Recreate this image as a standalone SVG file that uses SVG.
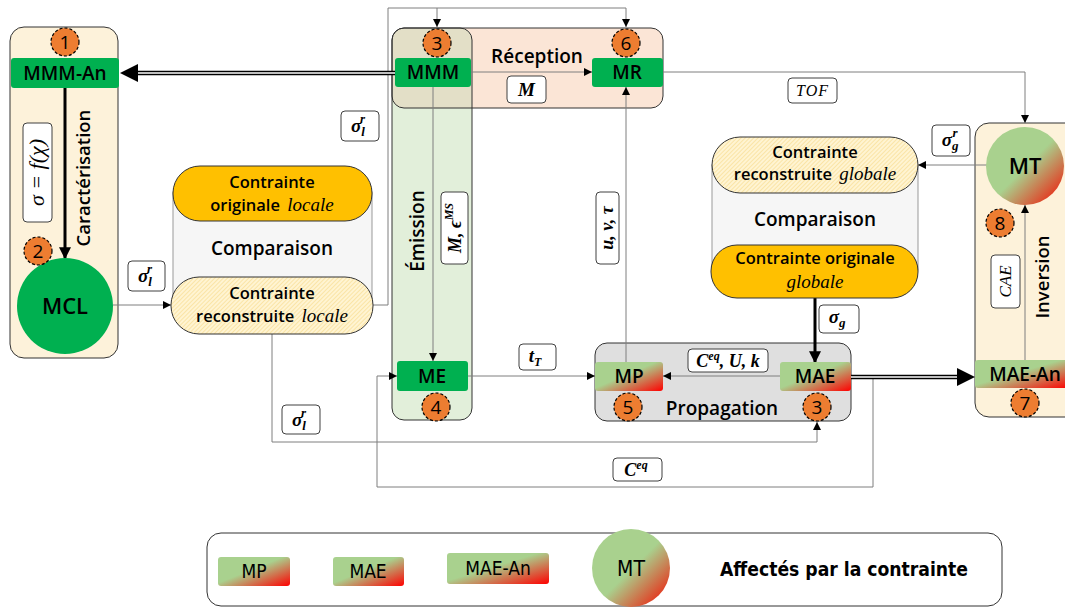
<svg xmlns="http://www.w3.org/2000/svg" width="1065" height="609" viewBox="0 0 1065 609">
<defs>
<style>
.t{font-family:"Open Sans","Liberation Sans",sans-serif;font-weight:600;fill:#000;text-anchor:middle}
.n{font-family:"Open Sans","Liberation Sans",sans-serif;font-size:19px;fill:#000;text-anchor:middle}
.m{font-family:"Liberation Serif","DejaVu Serif",serif;font-style:italic;font-weight:bold;fill:#000;text-anchor:middle}
.mi{font-family:"Liberation Serif","DejaVu Serif",serif;font-style:italic;fill:#000;text-anchor:middle}
.lbl{fill:#fff;stroke:#404040;stroke-width:1}
.conn{fill:none;stroke:#7f7f7f;stroke-width:1}
.thick{fill:none;stroke:#000;stroke-width:3}
.green{fill:#00b050}
.badge{fill:#ed7d31;stroke:#000;stroke-width:1.2;stroke-dasharray:3,2}
.col{fill:#fdf2da;stroke:#333;stroke-width:1}
.lg{font-family:"DejaVu Sans Condensed","DejaVu Sans","Liberation Sans",sans-serif;fill:#000;text-anchor:middle}
</style>
<linearGradient id="grad" x1="0" y1="0" x2="1" y2="1">
<stop offset="0" stop-color="#a9d18e"/>
<stop offset="0.45" stop-color="#a9d18e"/>
<stop offset="1" stop-color="#ff0000"/>
</linearGradient>
<linearGradient id="gradc" x1="0.15" y1="0.15" x2="0.95" y2="0.95">
<stop offset="0" stop-color="#a9d18e"/>
<stop offset="0.45" stop-color="#a9d18e"/>
<stop offset="1" stop-color="#f01a0a"/>
</linearGradient>
<pattern id="hatch" width="3" height="3" patternUnits="userSpaceOnUse" patternTransform="rotate(45)">
<rect width="3" height="3" fill="#fff4d2"/>
<line x1="0" y1="0" x2="0" y2="3" stroke="#f6d47a" stroke-width="1"/>
</pattern>
<clipPath id="recClip"><rect x="392" y="28" width="271" height="80" rx="12"/></clipPath>
<marker id="a" viewBox="0 0 10 10" refX="10" refY="5" markerWidth="8" markerHeight="8" markerUnits="userSpaceOnUse" orient="auto"><path d="M0,0 L10,5 L0,10 z" fill="#000"/></marker>
<marker id="ab" viewBox="0 0 10 10" refX="9" refY="5" markerWidth="12" markerHeight="12" markerUnits="userSpaceOnUse" orient="auto"><path d="M0,0 L10,5 L0,10 z" fill="#000"/></marker>
</defs>
<rect width="1065" height="609" fill="#fff"/>

<!-- Containers -->
<g id="caracterisation">
<rect class="col" x="10" y="27" width="108" height="331" rx="14"/>
<text class="t" font-size="18.5" transform="translate(90,178) rotate(-90)">Caractérisation</text>
</g>

<g id="reception-emission">
<rect x="392" y="28" width="271" height="80" rx="12" fill="#fbe5d6"/>
<rect x="392" y="28" width="80" height="392" rx="12" fill="#e2efda"/>
<rect x="392" y="28" width="80" height="392" rx="12" fill="#e3dfc7" clip-path="url(#recClip)"/>
<rect x="392" y="28" width="271" height="80" rx="12" fill="none" stroke="#333"/>
<rect x="392" y="28" width="80" height="392" rx="12" fill="none" stroke="#333"/>
<text class="t" font-size="19" x="537" y="63">Réception</text>
<text class="t" font-size="19" transform="translate(424,231) rotate(-90)">Émission</text>
</g>

<g id="propagation">
<rect x="595" y="343" width="256" height="78" rx="12" fill="#dfdfdf" stroke="#333"/>
<text class="t" font-size="19" x="722" y="415">Propagation</text>
</g>

<g id="inversion">
<rect class="col" x="975" y="123" width="110" height="294" rx="14"/>
<text class="t" font-size="18.5" transform="translate(1049,277) rotate(-90)">Inversion</text>
</g>

<!-- Connectors -->
<g id="connectors">
<path class="thick" d="M65,88 V258" marker-end="url(#ab)"/>
<path class="conn" d="M113,305 H171" marker-end="url(#a)"/>
<path class="conn" d="M373,305 H388 V8 H626 V27" marker-end="url(#a)"/>
<path class="conn" d="M437,8 V27" marker-end="url(#a)"/>
<path class="conn" d="M471,72 H592" marker-end="url(#a)"/>
<path class="conn" d="M433,87 V361" marker-end="url(#a)"/>
<path class="conn" d="M468,376 H595" marker-end="url(#a)"/>
<path class="conn" d="M780,376 H663" marker-end="url(#a)"/>
<path class="conn" d="M626,362 V87" marker-end="url(#a)"/>
<path class="conn" d="M272,334 V442 H817 V422" marker-end="url(#a)"/>
<path class="conn" d="M851,377 H873 V487 H377 V376 H397" marker-end="url(#a)"/>
<path class="conn" d="M663,72 H1025 V123" marker-end="url(#a)"/>
<path class="conn" d="M987,165 H918" marker-end="url(#a)"/>
<path class="conn" d="M1025,360 V205" marker-end="url(#a)"/>
<path class="thick" d="M815,298 V362" marker-end="url(#ab)"/>
<path d="M395,73 H135" stroke="#000" stroke-width="4.5" fill="none"/>
<path d="M395,73 H135" stroke="#fff" stroke-width="1.3" fill="none"/>
<polygon points="138,64 120,73 138,82" fill="#000"/>
<path d="M851,377 H960" stroke="#000" stroke-width="4.5" fill="none"/>
<path d="M851,377 H960" stroke="#fff" stroke-width="1.3" fill="none"/>
<polygon points="957,368 975,377 957,386" fill="#000"/>
</g>

<!-- Labels -->
<g id="labels">
<rect class="lbl" x="23" y="123" width="29" height="99" rx="4"/>
<text class="mi" font-size="22" transform="translate(44,172.5) rotate(-90)">σ = <tspan>f</tspan>(χ)</text>

<rect class="lbl" x="128" y="261" width="37" height="30" rx="4"/>
<text class="m" font-size="19" x="145" y="282">σ<tspan font-size="13" dy="4">l</tspan><tspan font-size="13" dx="-5" dy="-13">r</tspan></text>

<rect class="lbl" x="341" y="111" width="38" height="30" rx="4"/>
<text class="m" font-size="19" x="358" y="132">σ<tspan font-size="13" dy="4">l</tspan><tspan font-size="13" dx="-5" dy="-13">r</tspan></text>

<rect class="lbl" x="282" y="405" width="38" height="29" rx="4"/>
<text class="m" font-size="19" x="299" y="426">σ<tspan font-size="13" dy="4">l</tspan><tspan font-size="13" dx="-5" dy="-13">r</tspan></text>

<rect class="lbl" x="507" y="76" width="39" height="27" rx="4"/>
<text class="m" font-size="19" x="526.5" y="96">M</text>

<rect class="lbl" x="441" y="192" width="27" height="72" rx="4"/>
<text class="m" font-size="18" transform="translate(461,228) rotate(-90)">M, ϵ<tspan font-size="12" dy="-8">MS</tspan></text>

<rect class="lbl" x="596" y="192" width="23" height="72" rx="4"/>
<text class="m" font-size="18" transform="translate(613,228) rotate(-90)">u, v, τ</text>

<rect class="lbl" x="519" y="344" width="37" height="26" rx="4"/>
<text class="m" font-size="19" x="535" y="362">t<tspan font-size="12" dy="4">T</tspan></text>

<rect class="lbl" x="688" y="349" width="80" height="23" rx="4"/>
<text class="m" font-size="18" x="728" y="367">C<tspan font-size="12" dy="-7">eq</tspan><tspan dy="7">, U, k</tspan></text>

<rect class="lbl" x="613" y="458" width="49" height="23" rx="4"/>
<text class="m" font-size="18" x="636" y="476">C<tspan font-size="12" dy="-7">eq</tspan></text>

<rect class="lbl" x="788" y="78" width="49" height="25" rx="4"/>
<text class="mi" font-size="16" x="812.5" y="96" letter-spacing="1">TOF</text>

<rect class="lbl" x="932" y="125" width="38" height="31" rx="4"/>
<text class="m" font-size="19" x="950" y="146">σ<tspan font-size="13" dy="4">g</tspan><tspan font-size="13" dx="-6" dy="-13">r</tspan></text>

<rect class="lbl" x="819" y="305" width="40" height="28" rx="4"/>
<text class="m" font-size="19" x="837" y="323">σ<tspan font-size="13" dy="4">g</tspan></text>

<rect class="lbl" x="991" y="255" width="29" height="53" rx="4"/>
<text class="mi" font-size="17" transform="translate(1011,281.5) rotate(-90)">CAE</text>
</g>

<!-- Nodes -->
<g id="node-mmm-an">
<rect class="green" x="11" y="58" width="108" height="30" rx="3"/>
<text class="t" font-size="19" x="65" y="80">MMM-An</text>
<circle class="badge" cx="65" cy="42" r="14"/>
<text class="n" x="65" y="49">1</text>
</g>
<g id="node-mcl">
<circle class="green" cx="65" cy="306" r="48"/>
<text class="t" font-size="22" x="65" y="314">MCL</text>
<circle class="badge" cx="38" cy="251" r="14"/>
<text class="n" x="38" y="258">2</text>
</g>

<g id="node-comparaison-locale">
<rect x="173" y="192" width="199" height="112" fill="#f6f6f6" stroke="#999"/>
<rect x="173" y="166" width="199" height="55" rx="27" fill="#ffc000" stroke="#333"/>
<text class="t" font-size="16.5" x="272" y="188">Contrainte</text>
<text class="t" font-size="16.5" x="272" y="211">originale <tspan class="mi" font-weight="normal" font-size="19" dx="3">locale</tspan></text>
<text class="t" font-size="19" x="272" y="255">Comparaison</text>
<rect x="171" y="277" width="202" height="57" rx="28" fill="url(#hatch)" stroke="#333"/>
<text class="t" font-size="16.5" x="272" y="299">Contrainte</text>
<text class="t" font-size="16.5" x="272" y="322">reconstruite <tspan class="mi" font-weight="normal" font-size="19" dx="3">locale</tspan></text>
</g>

<g id="node-mmm">
<rect class="green" x="395" y="58" width="76" height="29" rx="3"/>
<text class="t" font-size="19" x="433" y="79">MMM</text>
<circle class="badge" cx="437" cy="43" r="14"/>
<text class="n" x="437" y="50">3</text>
</g>
<g id="node-mr">
<rect class="green" x="592" y="58" width="71" height="29" rx="3"/>
<text class="t" font-size="19" x="627" y="79">MR</text>
<circle class="badge" cx="626" cy="43" r="14"/>
<text class="n" x="626" y="50">6</text>
</g>
<g id="node-me">
<rect class="green" x="397" y="361" width="71" height="30" rx="3"/>
<text class="t" font-size="19" x="432" y="383">ME</text>
<circle class="badge" cx="436" cy="407" r="14"/>
<text class="n" x="436" y="414">4</text>
</g>
<g id="node-mp">
<rect x="595" y="362" width="68" height="29" rx="3" fill="url(#grad)"/>
<text class="t" font-size="19" x="629" y="383">MP</text>
<circle class="badge" cx="628" cy="407" r="14"/>
<text class="n" x="628" y="414">5</text>
</g>
<g id="node-mae">
<rect x="780" y="362" width="71" height="29" rx="3" fill="url(#grad)"/>
<text class="t" font-size="19" x="815" y="383">MAE</text>
<circle class="badge" cx="817" cy="407" r="14"/>
<text class="n" x="817" y="414">3</text>
</g>

<g id="node-comparaison-globale">
<rect x="712" y="165" width="206" height="105" fill="#f6f6f6" stroke="#999"/>
<rect x="712" y="137" width="206" height="56" rx="28" fill="url(#hatch)" stroke="#333"/>
<text class="t" font-size="16.5" x="815" y="158">Contrainte</text>
<text class="t" font-size="16.5" x="815" y="180">reconstruite <tspan class="mi" font-weight="normal" font-size="19" dx="3">globale</tspan></text>
<text class="t" font-size="19" x="815" y="226">Comparaison</text>
<rect x="711" y="245" width="207" height="53" rx="26" fill="#ffc000" stroke="#333"/>
<text class="t" font-size="16.5" x="815" y="264">Contrainte originale</text>
<text class="mi" font-size="19" x="815" y="288">globale</text>
</g>

<g id="node-mt">
<circle cx="1025" cy="166" r="39" fill="url(#gradc)"/>
<text class="t" font-size="22" x="1025" y="174">MT</text>
<circle class="badge" cx="1000" cy="223" r="14"/>
<text class="n" x="1000" y="230">8</text>
</g>
<g id="node-mae-an">
<rect x="975" y="360" width="95" height="28" rx="3" fill="url(#grad)"/>
<text class="t" font-size="19" x="1025" y="381">MAE-An</text>
<circle class="badge" cx="1025" cy="403" r="14"/>
<text class="n" x="1025" y="410">7</text>
</g>

<!-- Legend -->
<g id="legend">
<rect x="207" y="533" width="795" height="73" rx="14" fill="#fff" stroke="#333"/>
<rect x="218" y="557" width="72" height="29" rx="3" fill="url(#grad)"/>
<text class="lg" font-size="19" x="254" y="578">MP</text>
<rect x="333" y="557" width="71" height="29" rx="3" fill="url(#grad)"/>
<text class="lg" font-size="19" x="368" y="578">MAE</text>
<rect x="447" y="553" width="102" height="31" rx="3" fill="url(#grad)"/>
<text class="lg" font-size="19" x="498" y="575">MAE-An</text>
<circle cx="631" cy="568" r="39" fill="url(#gradc)"/>
<text class="lg" font-size="21" x="631" y="576">MT</text>
<text x="720" y="576" font-family="DejaVu Sans Condensed, DejaVu Sans, Liberation Sans, sans-serif" font-weight="bold" font-size="19" textLength="248" lengthAdjust="spacingAndGlyphs">Affectés par la contrainte</text>
</g>
</svg>
